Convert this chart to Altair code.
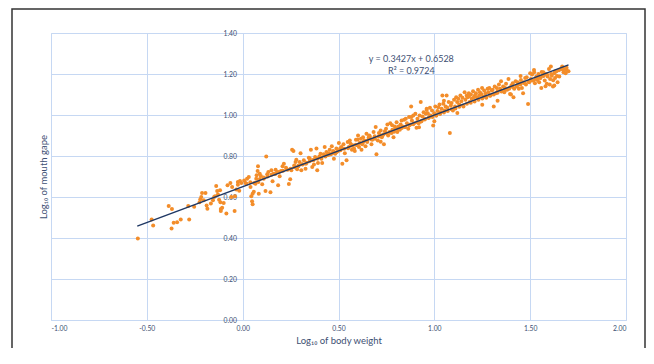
import altair as alt
import pandas as pd

# Log10 body weight / Log10 mouth gape pairs, grouped by x range
pts_below_0 = [
    (-0.547, 0.397), (-0.475, 0.490), (-0.467, 0.461), (-0.386, 0.556), (-0.369, 0.542),
    (-0.371, 0.446), (-0.360, 0.475), (-0.342, 0.477), (-0.323, 0.490), (-0.284, 0.556),
    (-0.279, 0.490), (-0.253, 0.552), (-0.225, 0.574), (-0.221, 0.589), (-0.216, 0.600),
    (-0.212, 0.620), (-0.194, 0.620), (-0.203, 0.584), (-0.188, 0.558), (-0.184, 0.543),
    (-0.166, 0.568), (-0.155, 0.584), (-0.149, 0.600), (-0.144, 0.604), (-0.138, 0.654),
    (-0.133, 0.629), (-0.118, 0.633), (-0.129, 0.612), (-0.123, 0.587), (-0.116, 0.574),
    (-0.114, 0.542), (-0.107, 0.548), (-0.114, 0.532), (-0.099, 0.571), (-0.085, 0.519),
    (-0.079, 0.657), (-0.064, 0.668), (-0.055, 0.649), (-0.059, 0.600), (-0.042, 0.532),
    (-0.040, 0.604), (-0.033, 0.636), (-0.025, 0.660), (-0.025, 0.673), (-0.018, 0.631),
    (-0.014, 0.678), (-0.007, 0.668),
]
pts_0_to_05 = [
    (0.008, 0.681), (0.015, 0.668), (0.023, 0.689), (0.032, 0.698), (0.041, 0.649),
    (0.045, 0.604), (0.049, 0.579), (0.052, 0.565), (0.052, 0.616), (0.058, 0.626),
    (0.067, 0.665), (0.071, 0.689), (0.073, 0.706), (0.078, 0.727), (0.080, 0.750),
    (0.082, 0.673), (0.084, 0.616), (0.089, 0.714), (0.095, 0.702), (0.102, 0.662),
    (0.110, 0.689), (0.119, 0.629), (0.123, 0.798), (0.128, 0.711), (0.134, 0.722),
    (0.145, 0.623), (0.150, 0.730), (0.156, 0.677), (0.161, 0.714), (0.172, 0.733),
    (0.180, 0.722), (0.185, 0.657), (0.193, 0.701), (0.200, 0.727), (0.208, 0.750),
    (0.215, 0.762), (0.226, 0.743), (0.235, 0.733), (0.241, 0.664), (0.248, 0.686),
    (0.254, 0.730), (0.258, 0.831), (0.265, 0.824), (0.269, 0.754), (0.276, 0.771),
    (0.280, 0.782), (0.284, 0.735), (0.291, 0.750), (0.297, 0.771), (0.302, 0.814),
    (0.306, 0.730), (0.313, 0.759), (0.319, 0.779), (0.328, 0.738), (0.334, 0.767),
    (0.345, 0.792), (0.350, 0.788), (0.356, 0.831), (0.363, 0.746), (0.367, 0.779),
    (0.372, 0.759), (0.378, 0.795), (0.385, 0.836), (0.389, 0.730), (0.393, 0.766),
    (0.400, 0.798), (0.406, 0.811), (0.411, 0.787), (0.415, 0.766), (0.422, 0.808),
    (0.428, 0.844), (0.432, 0.798), (0.437, 0.819), (0.443, 0.805), (0.450, 0.814),
    (0.454, 0.831), (0.461, 0.808), (0.465, 0.847), (0.472, 0.824), (0.476, 0.787),
    (0.483, 0.811), (0.489, 0.836), (0.498, 0.824),
]
pts_05_to_1 = [
    (0.502, 0.863), (0.509, 0.836), (0.515, 0.844), (0.520, 0.762), (0.526, 0.857),
    (0.533, 0.814), (0.542, 0.779), (0.548, 0.868), (0.554, 0.844), (0.559, 0.876),
    (0.563, 0.860), (0.570, 0.831), (0.574, 0.852), (0.581, 0.836), (0.585, 0.824),
    (0.591, 0.879), (0.598, 0.852), (0.602, 0.900), (0.607, 0.844), (0.611, 0.863),
    (0.617, 0.884), (0.624, 0.857), (0.628, 0.892), (0.635, 0.876), (0.641, 0.847),
    (0.646, 0.908), (0.650, 0.868), (0.657, 0.889), (0.663, 0.896), (0.672, 0.857),
    (0.676, 0.879), (0.683, 0.917), (0.689, 0.896), (0.694, 0.941), (0.698, 0.808),
    (0.705, 0.876), (0.711, 0.912), (0.716, 0.900), (0.720, 0.925), (0.726, 0.892),
    (0.733, 0.905), (0.737, 0.857), (0.742, 0.921), (0.748, 0.933), (0.755, 0.954),
    (0.759, 0.900), (0.766, 0.917), (0.770, 0.960), (0.777, 0.912), (0.781, 0.928),
    (0.787, 0.892), (0.794, 0.944), (0.798, 0.933), (0.803, 0.965), (0.807, 0.917),
    (0.813, 0.944), (0.820, 0.928), (0.824, 0.954), (0.829, 0.973), (0.835, 0.944),
    (0.842, 0.977), (0.846, 0.941), (0.851, 0.982), (0.857, 0.960), (0.864, 0.933),
    (0.868, 0.990), (0.875, 0.954), (0.879, 1.042), (0.883, 0.973), (0.890, 0.998),
    (0.894, 0.960), (0.901, 1.006), (0.907, 0.938), (0.912, 0.982), (0.918, 0.960),
    (0.923, 0.998), (0.929, 1.063), (0.933, 0.970), (0.938, 0.993), (0.944, 1.014),
    (0.951, 0.982), (0.955, 1.006), (0.960, 1.025), (0.966, 1.009), (0.973, 0.990),
    (0.977, 1.035), (0.981, 0.998), (0.988, 1.022), (0.994, 0.949), (0.999, 1.009),
]
pts_1_to_15 = [
    (1.005, 1.042), (1.010, 0.998), (1.016, 1.019), (1.021, 1.038), (1.027, 1.051),
    (1.031, 1.014), (1.038, 1.030), (1.042, 1.095), (1.047, 1.055), (1.053, 1.022),
    (1.059, 1.042), (1.064, 1.095), (1.068, 1.035), (1.075, 1.063), (1.081, 0.912),
    (1.086, 1.046), (1.090, 1.058), (1.097, 1.022), (1.103, 1.074), (1.108, 1.042),
    (1.114, 1.087), (1.119, 1.063), (1.125, 1.079), (1.130, 1.051), (1.136, 1.095),
    (1.141, 1.067), (1.147, 1.084), (1.152, 1.042), (1.158, 1.111), (1.162, 1.074),
    (1.169, 1.095), (1.173, 1.087), (1.180, 1.106), (1.184, 1.063), (1.191, 1.100),
    (1.195, 1.079), (1.202, 1.116), (1.206, 1.087), (1.212, 1.095), (1.217, 1.106),
    (1.223, 1.084), (1.228, 1.123), (1.234, 1.095), (1.238, 1.111), (1.245, 1.103),
    (1.249, 1.132), (1.256, 1.090), (1.260, 1.119), (1.267, 1.106), (1.271, 1.084),
    (1.278, 1.128), (1.282, 1.111), (1.287, 1.132), (1.293, 1.095), (1.300, 1.119),
    (1.304, 1.123), (1.310, 1.042), (1.315, 1.139), (1.321, 1.106), (1.326, 1.132),
    (1.330, 1.116), (1.337, 1.149), (1.343, 1.128), (1.348, 1.165), (1.352, 1.119),
    (1.359, 1.139), (1.365, 1.111), (1.369, 1.132), (1.374, 1.152), (1.380, 1.123),
    (1.387, 1.176), (1.391, 1.132), (1.395, 1.103), (1.402, 1.144), (1.409, 1.155),
    (1.413, 1.087), (1.417, 1.128), (1.424, 1.165), (1.430, 1.139), (1.435, 1.160),
    (1.441, 1.128), (1.446, 1.149), (1.452, 1.171), (1.457, 1.132), (1.463, 1.106),
    (1.467, 1.160), (1.474, 1.181), (1.478, 1.149), (1.482, 1.184), (1.489, 1.054),
    (1.495, 1.160), (1.500, 1.204),
]
pts_above_15 = [
    (1.504, 1.176), (1.510, 1.197), (1.517, 1.168), (1.521, 1.209), (1.525, 1.155),
    (1.532, 1.188), (1.538, 1.171), (1.543, 1.200), (1.547, 1.160), (1.554, 1.181),
    (1.558, 1.132), (1.565, 1.192), (1.569, 1.209), (1.576, 1.168), (1.582, 1.200),
    (1.587, 1.152), (1.591, 1.188), (1.598, 1.225), (1.604, 1.176), (1.608, 1.236),
    (1.613, 1.192), (1.619, 1.139), (1.626, 1.204), (1.630, 1.181), (1.637, 1.213),
    (1.643, 1.160), (1.652, 1.188), (1.661, 1.225), (1.667, 1.236), (1.674, 1.209),
    (1.678, 1.225), (1.685, 1.204), (1.691, 1.217), (1.700, 1.213), (1.602, 1.149),
    (1.626, 1.144),
]
pts_near_line = [
    (0.02, 0.665), (0.04, 0.672), (0.06, 0.668), (0.09, 0.688), (0.11, 0.695), (0.13, 0.700),
    (0.15, 0.708), (0.17, 0.712), (0.19, 0.722), (0.21, 0.728), (0.23, 0.735), (0.25, 0.738),
    (0.27, 0.745), (0.29, 0.752), (0.31, 0.760), (0.33, 0.762), (0.35, 0.775), (0.37, 0.780),
    (0.39, 0.786), (0.41, 0.793), (0.43, 0.802), (0.45, 0.806), (0.47, 0.815), (0.49, 0.818),
    (0.51, 0.828), (0.53, 0.835), (0.55, 0.838), (0.57, 0.850), (0.59, 0.855), (0.61, 0.862),
    (0.63, 0.868), (0.65, 0.874), (0.67, 0.882), (0.69, 0.884), (0.71, 0.895), (0.73, 0.900),
    (0.75, 0.910), (0.77, 0.915), (0.79, 0.918), (0.81, 0.930), (0.83, 0.936), (0.85, 0.942),
    (0.87, 0.950), (0.89, 0.955), (0.91, 0.965), (0.93, 0.968), (0.95, 0.978), (0.97, 0.985),
    (0.99, 0.990), (1.01, 0.998), (1.03, 1.005), (1.05, 1.012), (1.07, 1.020), (1.09, 1.028),
    (1.11, 1.032), (1.13, 1.040), (1.15, 1.046), (1.17, 1.055), (1.19, 1.060), (1.21, 1.066),
    (1.23, 1.075), (1.25, 1.080), (1.27, 1.088), (1.29, 1.094), (1.31, 1.100), (1.33, 1.108),
    (1.35, 1.115), (1.37, 1.122), (1.39, 1.128), (1.41, 1.135), (1.43, 1.142), (1.45, 1.150),
    (1.47, 1.155), (1.49, 1.162), (1.51, 1.168), (1.53, 1.176), (1.55, 1.182), (1.57, 1.190),
    (1.59, 1.195), (1.61, 1.200), (1.63, 1.212), (1.65, 1.218), (1.67, 1.222), (1.69, 1.230),
    (1.05, 1.07), (1.12, 1.01), (1.18, 1.09), (1.25, 1.05), (1.33, 1.07), (1.40, 1.10),
    (1.45, 1.19), (1.52, 1.22), (1.56, 1.21), (1.58, 1.14), (1.62, 1.17), (1.64, 1.19),
    (0.88, 0.99), (0.92, 0.94), (0.96, 1.03), (1.00, 0.97), (0.62, 0.83), (0.66, 0.90),
    (0.72, 0.87), (0.78, 0.95), (0.60, 0.88),
]

x_ticks = [-1.0, -0.5, 0.0, 0.5, 1.0, 1.5, 2.0]
y_ticks = [0.0, 0.2, 0.4, 0.6, 0.8, 1.0, 1.2, 1.4]
equation_lines = ["y = 0.3427x + 0.6528", "R² = 0.9724"]
equation_x = [0.88, 0.88]
equation_y = [1.273, 1.213]
fit_extent = [-0.55, 1.70]

all_pts = pts_below_0 + pts_0_to_05 + pts_05_to_1 + pts_1_to_15 + pts_above_15 + pts_near_line
df = pd.DataFrame(all_pts, columns=["bw", "gape"])
df_eq = pd.DataFrame({"x": equation_x, "y": equation_y, "t": equation_lines})

FONT = "Lato, Calibri, Carlito, sans-serif"
TXT = "#3D4F73"
GRID = "#C6D8F3"
W, H = 575, 287

xscale = alt.Scale(domain=[-1, 2], nice=False, zero=False)
yscale = alt.Scale(domain=[0, 1.4], nice=False, zero=False)

label_expr = "replace(format(datum.value, '.2f'), '\u2212', '-')"

x_enc = alt.X("bw:Q", scale=xscale, axis=alt.Axis(
    values=x_ticks, grid=True, gridColor=GRID, gridWidth=1, ticks=False,
    domain=True, domainColor=GRID, domainWidth=1,
    labelExpr=label_expr, labelFont=FONT, labelFontSize=6.8, labelColor=TXT,
    labelPadding=5, title="Log₁₀ of body weight", titleFont=FONT, titleFontSize=9.5,
    titleFontWeight="normal", titleColor=TXT, titlePadding=4))
y_enc = alt.Y("gape:Q", scale=yscale, axis=alt.Axis(
    values=y_ticks, grid=True, gridColor=GRID, gridWidth=1, ticks=False,
    domain=False, offset=-191.5,
    labelExpr=label_expr, labelFont=FONT, labelFontSize=6.8, labelColor=TXT,
    labelPadding=6, title="Log₁₀ of mouth gape", titleFont=FONT, titleFontSize=9.5,
    titleFontWeight="normal", titleColor=TXT, titleX=-194, titleY=H / 2, titleAngle=-90))

points = alt.Chart(df).mark_circle(size=16, color="#F38D2A", opacity=1).encode(x=x_enc, y=y_enc)

trend = alt.Chart(df).transform_regression(
    "bw", "gape", extent=fit_extent
).mark_line(color="#1F3864", strokeWidth=1.4).encode(
    x=alt.X("bw:Q", scale=xscale), y=alt.Y("gape:Q", scale=yscale))

eq = alt.Chart(df_eq).mark_text(font=FONT, fontSize=9, color=TXT).encode(
    x=alt.X("x:Q", scale=xscale), y=alt.Y("y:Q", scale=yscale), text="t:N")

frame = alt.Chart(pd.DataFrame({"k": [0]})).mark_rect(
    fill=None, stroke="#333333", strokeWidth=1.5, clip=False
).encode(x=alt.value(-39), x2=alt.value(594), y=alt.value(-24), y2=alt.value(340))

chart = alt.layer(points, trend, eq, frame).properties(
    width=W, height=H,
    autosize=alt.AutoSizeParams(type="none"),
    padding={"left": 43, "top": 25, "right": 20, "bottom": 28},
).configure_view(stroke=None).configure(background="white")

chart.save("out.html", embed_options={"renderer": "svg", "actions": False})
